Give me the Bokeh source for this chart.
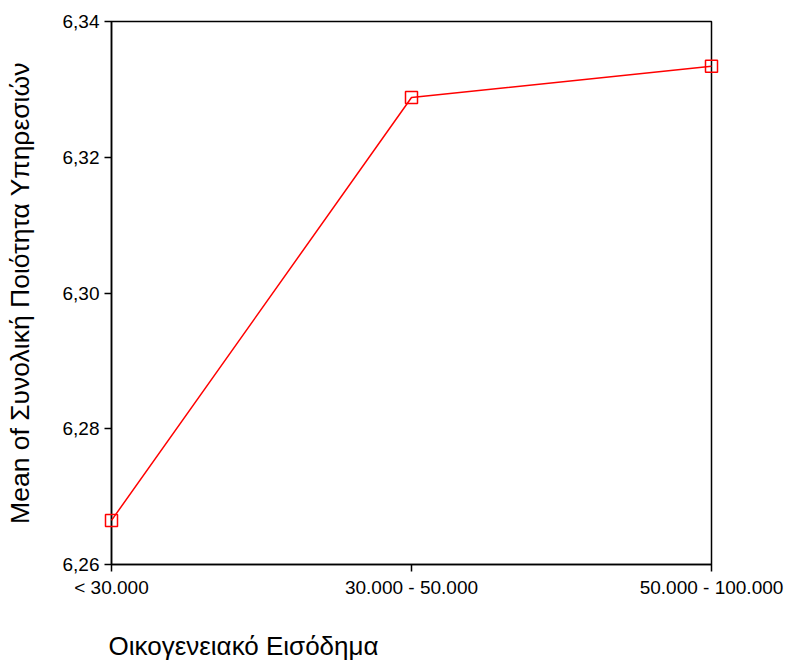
from bokeh.plotting import figure
from bokeh.models import FixedTicker, CustomJSTickFormatter, Range1d
from bokeh.core.properties import value
from bokeh.embed import file_html
from bokeh.resources import INLINE

categories = ["< 30.000", "30.000 - 50.000", "50.000 - 100.000"]
means = [6.2665, 6.3288, 6.3334]
y_ticks = [6.26, 6.28, 6.30, 6.32, 6.34]
x_title = "Οικογενειακό Εισόδημα"
y_title = "Mean of Συνολική Ποιότητα Υπηρεσιών"

xs = list(range(len(categories)))

W, H = 788, 662
ML, MR, MT, MB = 111, 77, 21, 98
p = figure(width=W, height=H, output_backend="svg", toolbar_location=None,
           x_range=Range1d(0, len(categories) - 1), y_range=Range1d(y_ticks[0], y_ticks[-1]),
           min_border_left=ML, min_border_right=MR, min_border_top=MT, min_border_bottom=MB)

p.line(xs, means, line_color="red", line_width=1.5, level="overlay")
p.scatter(xs, means, marker="square", size=12, line_color="red", line_width=1.5,
          fill_color=None, level="overlay")

p.xgrid.visible = False
p.ygrid.visible = False
p.outline_line_color = "black"
p.outline_line_width = 1.5
p.outline_line_alpha = 1.0

font = "Liberation Sans"
for ax in (p.xaxis[0], p.yaxis[0]):
    ax.axis_line_color = "black"
    ax.axis_line_width = 1.5
    ax.major_tick_line_color = "black"
    ax.major_tick_line_width = 1.5
    ax.major_tick_in = 0
    ax.major_tick_out = 7
    ax.minor_tick_line_color = None
    ax.major_label_text_font = font
    ax.major_label_text_font_size = "19px"
    ax.major_label_text_color = "black"
    ax.major_label_standoff = 5

p.xaxis.ticker = FixedTicker(ticks=xs)
p.xaxis.major_label_overrides = {i: c for i, c in enumerate(categories)}
p.yaxis.ticker = FixedTicker(ticks=y_ticks)
p.yaxis.formatter = CustomJSTickFormatter(code="return tick.toFixed(2).replace('.', ',');")

p.yaxis.axis_label = y_title
p.yaxis.axis_label_text_font = font
p.yaxis.axis_label_text_font_size = "26.5px"
p.yaxis.axis_label_text_font_style = "normal"
p.yaxis.axis_label_text_color = "black"
p.yaxis.axis_label_standoff = 25

# x-axis title, left-aligned below the tick labels (drawn as an unclipped text glyph)
frame_h = H - MT - MB
frame_w = W - ML - MR
y_per_px = (y_ticks[-1] - y_ticks[0]) / frame_h
x_per_px = (len(categories) - 1) / frame_w
p.text(x=[-3 * x_per_px], y=[y_ticks[0] - 81 * y_per_px], text=[x_title],
       text_font=value(font), text_font_size="26px", text_color="black",
       text_baseline="alphabetic", text_align="left", level="overlay")

open("out.html", "w").write(file_html(p, INLINE))
